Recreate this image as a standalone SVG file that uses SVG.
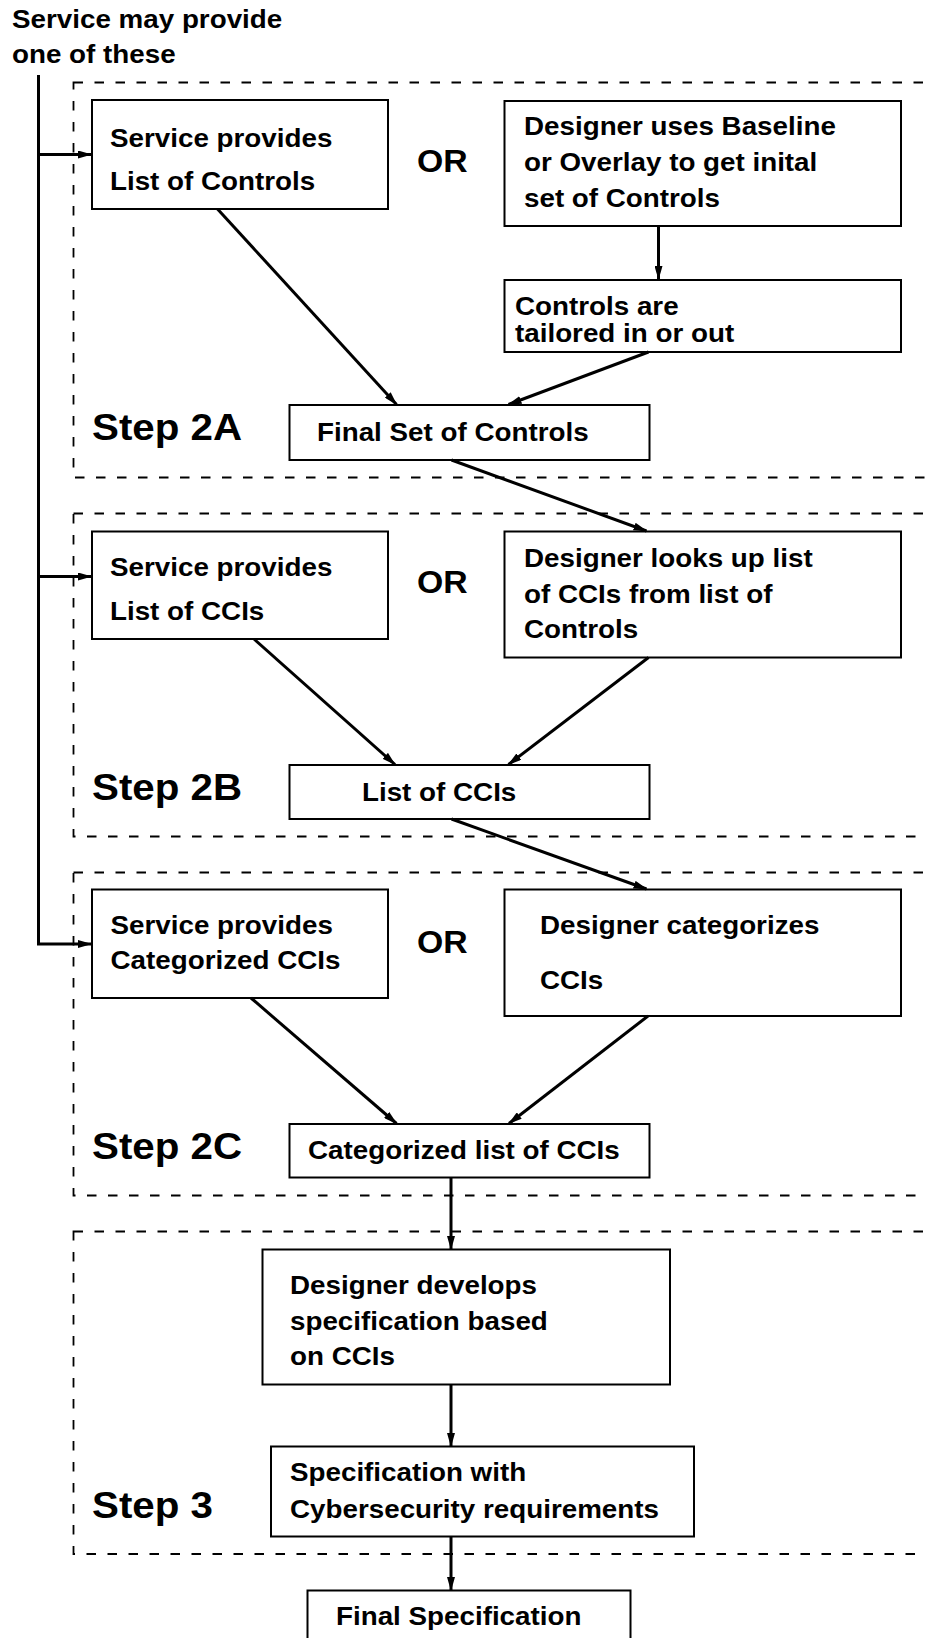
<svg xmlns="http://www.w3.org/2000/svg" width="925" height="1638" viewBox="0 0 925 1638">
  <defs>
    <style>
      text { font-family: "Liberation Sans", Arial, Helvetica, sans-serif; font-weight: bold; fill: #000;
             transform-box: fill-box; transform-origin: 0 50%; transform: scaleX(1.09); }
      .t { font-size: 25.5px; }
      .or { font-size: 31px; }
      .step { font-size: 37px; }
      .frame { fill: none; stroke: #000; stroke-width: 1.8; stroke-dasharray: 9.5 11.5; }
      .box { fill: #fff; stroke: #000; stroke-width: 2; }
      .link { fill: none; stroke: #000; stroke-width: 3; marker-end: url(#arrow); }
    </style>
    <marker id="arrow" markerUnits="userSpaceOnUse" viewBox="0 0 14 8" refX="13" refY="4" markerWidth="14" markerHeight="8" orient="auto">
      <path d="M0,0 L14,4 L0,8 z" fill="#000"/>
    </marker>
  </defs>
  <rect width="925" height="1638" fill="#fff"/>

  <!-- dashed step frames (open on the right) -->
  <g id="frames">
    <rect class="frame" x="73.5" y="82.5" width="900" height="395"/>
    <rect class="frame" x="73.5" y="513.5" width="900" height="323"/>
    <rect class="frame" x="73.5" y="872.5" width="900" height="323"/>
    <rect class="frame" x="73.5" y="1231.5" width="900" height="322.5"/>
  </g>

  <g id="header">
    <text class="t" x="12" y="28">Service may provide</text>
    <text class="t" x="12" y="63">one of these</text>
  </g>

  <g id="step-labels">
    <text class="step" x="92" y="440">Step 2A</text>
    <text class="step" x="92" y="800">Step 2B</text>
    <text class="step" x="92" y="1159">Step 2C</text>
    <text class="step" x="92" y="1518">Step 3</text>
  </g>

  <g id="or-labels">
    <text class="or" x="417" y="172">OR</text>
    <text class="or" x="417" y="593">OR</text>
    <text class="or" x="417" y="953">OR</text>
  </g>

  <!-- Step 2A -->
  <g id="svc-controls">
    <rect class="box" x="92" y="100" width="296" height="109"/>
    <text class="t" x="110" y="146.5">Service provides</text>
    <text class="t" x="110" y="190.5">List of Controls</text>
  </g>
  <g id="baseline-overlay">
    <rect class="box" x="504.5" y="101" width="396.5" height="125"/>
    <text class="t" x="524" y="135.5">Designer uses Baseline</text>
    <text class="t" x="524" y="171.5">or Overlay to get inital</text>
    <text class="t" x="524" y="207.5">set of Controls</text>
  </g>
  <g id="tailored">
    <rect class="box" x="504.5" y="280" width="396.5" height="72"/>
    <text class="t" x="515" y="315">Controls are</text>
    <text class="t" x="515" y="342">tailored in or out</text>
  </g>
  <g id="final-controls">
    <rect class="box" x="289.5" y="405" width="360" height="55"/>
    <text class="t" x="317" y="441.5">Final Set of Controls</text>
  </g>

  <!-- Step 2B -->
  <g id="svc-ccis">
    <rect class="box" x="92" y="531.5" width="296" height="107.5"/>
    <text class="t" x="110" y="576">Service provides</text>
    <text class="t" x="110" y="620.5">List of CCIs</text>
  </g>
  <g id="lookup-ccis">
    <rect class="box" x="504.5" y="531.5" width="396.5" height="126"/>
    <text class="t" x="524" y="567">Designer looks up list</text>
    <text class="t" x="524" y="603">of CCIs from list of</text>
    <text class="t" x="524" y="638.5">Controls</text>
  </g>
  <g id="list-ccis">
    <rect class="box" x="289.5" y="765" width="360" height="54"/>
    <text class="t" x="362" y="801">List of CCIs</text>
  </g>

  <!-- Step 2C -->
  <g id="svc-categorized">
    <rect class="box" x="92" y="889.5" width="296" height="108.5"/>
    <text class="t" x="110.5" y="934">Service provides</text>
    <text class="t" x="110.5" y="969.5">Categorized CCIs</text>
  </g>
  <g id="categorizes">
    <rect class="box" x="504.5" y="889.5" width="396.5" height="126.5"/>
    <text class="t" x="540" y="934">Designer categorizes</text>
    <text class="t" x="540" y="989.5">CCIs</text>
  </g>
  <g id="categorized-list">
    <rect class="box" x="289.5" y="1124" width="360" height="53.5"/>
    <text class="t" x="308" y="1159.5">Categorized list of CCIs</text>
  </g>

  <!-- Step 3 -->
  <g id="develops-spec">
    <rect class="box" x="262.5" y="1249.5" width="407.5" height="135"/>
    <text class="t" x="290" y="1294">Designer develops</text>
    <text class="t" x="290" y="1330">specification based</text>
    <text class="t" x="290" y="1365">on CCIs</text>
  </g>
  <g id="spec-cyber">
    <rect class="box" x="271" y="1446.5" width="423" height="90"/>
    <text class="t" x="290" y="1481.5">Specification with</text>
    <text class="t" x="290" y="1518">Cybersecurity requirements</text>
  </g>
  <g id="final-spec">
    <rect class="box" x="307.5" y="1590.5" width="323" height="60"/>
    <text class="t" x="336" y="1625">Final Specification</text>
  </g>

  <!-- connectors -->
  <g id="connectors">
    <path d="M38.5,75 V944" fill="none" stroke="#000" stroke-width="3"/>
    <path class="link" d="M38.5,154.5 H91"/>
    <path class="link" d="M38.5,576.5 H91"/>
    <path class="link" d="M37,944 H91"/>

    <path class="link" d="M658.5,226 V279"/>
    <path class="link" d="M648.5,352 L508.5,404.5"/>
    <path class="link" d="M217.5,209 L396.5,404.5"/>
    <path class="link" d="M451.5,460 L646.5,531"/>

    <path class="link" d="M254,639 L395,764.5"/>
    <path class="link" d="M648.5,657.5 L508.5,764.5"/>
    <path class="link" d="M451.5,819 L646.5,889"/>

    <path class="link" d="M251,998 L396.5,1123.5"/>
    <path class="link" d="M648,1016 L509,1123.5"/>
    <path class="link" d="M451,1177.5 V1249"/>

    <path class="link" d="M451,1384.5 V1446"/>
    <path class="link" d="M451,1536.5 V1590"/>
  </g>
</svg>
